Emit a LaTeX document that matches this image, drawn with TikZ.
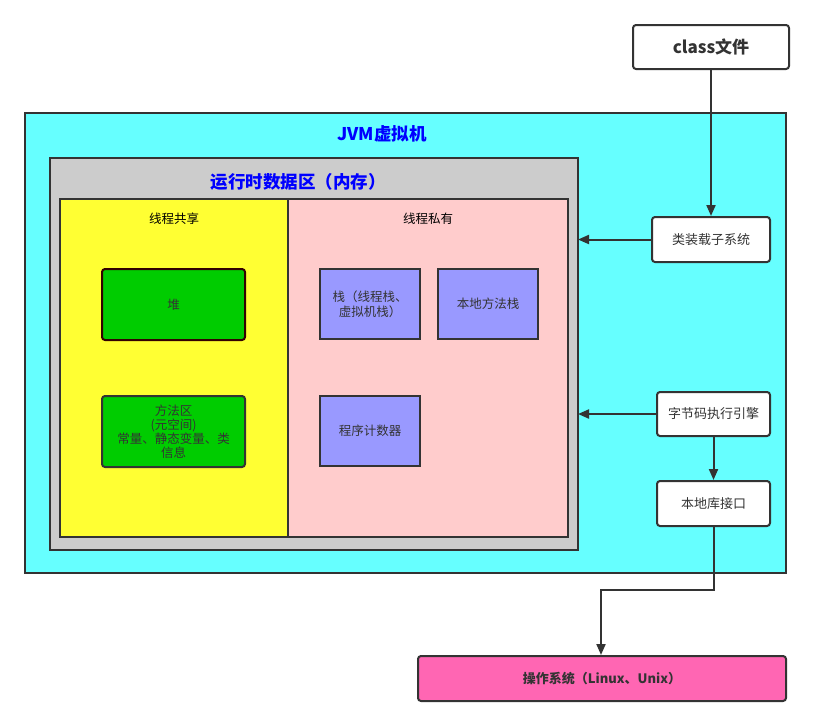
\documentclass[tikz,border=0pt]{standalone}
\usepackage{fontspec}
\setmainfont{Noto Sans CJK SC}
\usetikzlibrary{arrows.meta}
\definecolor{jvmcyan}{HTML}{66FFFF}
\definecolor{rtgrey}{HTML}{CCCCCC}
\definecolor{shareyellow}{HTML}{FFFF33}
\definecolor{privpink}{HTML}{FFCCCC}
\definecolor{heapgreen}{HTML}{00CC00}
\definecolor{stackblue}{HTML}{9999FF}
\definecolor{ospink}{HTML}{FF66B3}
\definecolor{edge}{HTML}{333333}
\definecolor{titleblue}{HTML}{0000FF}
\tikzset{
  area/.style={draw=edge, line width=2pt},
  rbox/.style={draw=edge, line width=2pt, rounded corners=3pt, fill=white, text=edge, font=\fontsize{13}{16}\selectfont, align=center},
  greenbox/.style={draw=edge, line width=2pt, rounded corners=3pt, fill=heapgreen, text=edge, font=\fontsize{12.5}{14}\selectfont, align=center},
  bluebox/.style={draw=edge, line width=2pt, fill=stackblue, text=edge, font=\fontsize{12.5}{15}\selectfont, align=center},
  conn/.style={draw=edge, line width=2pt, -{Triangle[length=11pt,width=9pt]}},
  title/.style={text=titleblue, font=\bfseries\fontsize{17.5}{20}\selectfont},
  subtitle/.style={text=black, font=\fontsize{12.5}{14}\selectfont},
}
\begin{document}
\begin{tikzpicture}[x=1pt,y=-1pt]
\useasboundingbox (0,0) rectangle (813,726);
% areas
\path[area, fill=jvmcyan] (25,113) rectangle (786,573);
\node[title] (jvmt) at (382,134) {JVM虚拟机};
\path[area, fill=rtgrey] (50,158) rectangle (578,550);
\node[title] (rtt) at (298,182) {运行时数据区（内存）};
\path[area, fill=shareyellow] (60,199) rectangle (288,537);
\path[area, fill=privpink] (288,199) rectangle (568,537);
\node[subtitle] (sh) at (174,219) {线程共享};
\node[subtitle] (pr) at (428,219) {线程私有};
% inner boxes
\node[greenbox, draw=black!80!red, minimum width=143pt, minimum height=71pt] (heap) at (173.5,304.5) {堆};
\node[greenbox, minimum width=143pt, minimum height=71pt, inner sep=1pt] (method) at (173.5,431.5) {方法区\\(元空间)\\常量、静态变量、类\\信息};
\node[bluebox, minimum width=100pt, minimum height=70pt] (stack) at (370,304) {栈（线程栈、\\虚拟机栈）};
\node[bluebox, minimum width=100pt, minimum height=70pt] (nstack) at (488,304) {本地方法栈};
\node[bluebox, minimum width=100pt, minimum height=70pt] (pc) at (370,431) {程序计数器};
% right side
\node[rbox, font=\bfseries\fontsize{17}{19}\selectfont, minimum width=156pt, minimum height=44pt] (cls) at (711,47) {class文件};
\node[rbox, minimum width=118pt, minimum height=45pt] (loader) at (711,239.5) {类装载子系统};
\node[rbox, minimum width=113pt, minimum height=44pt] (engine) at (713.5,414) {字节码执行引擎};
\node[rbox, minimum width=113pt, minimum height=45pt] (native) at (713.5,503.5) {本地库接口};
\node[rbox, fill=ospink, font=\bfseries\fontsize{13}{15}\selectfont, minimum width=368pt, minimum height=45pt] (os) at (602,678.5) {操作系统（Linux、Unix）};
% connectors
\coordinate (rtl) at (578,239.5);
\coordinate (rte) at (578,414);
\draw[conn] (cls.south) -- (loader.north);
\draw[conn] (loader.west) -- (rtl);
\draw[conn] (engine.west) -- (rte);
\draw[conn] (engine.south) -- (native.north);
\coordinate (b1) at (713.5,590);
\coordinate (b2) at (601,590);
\draw[conn] (native.south) -- (b1) -- (b2) -- (os.north -| b2);
\end{tikzpicture}
\end{document}
